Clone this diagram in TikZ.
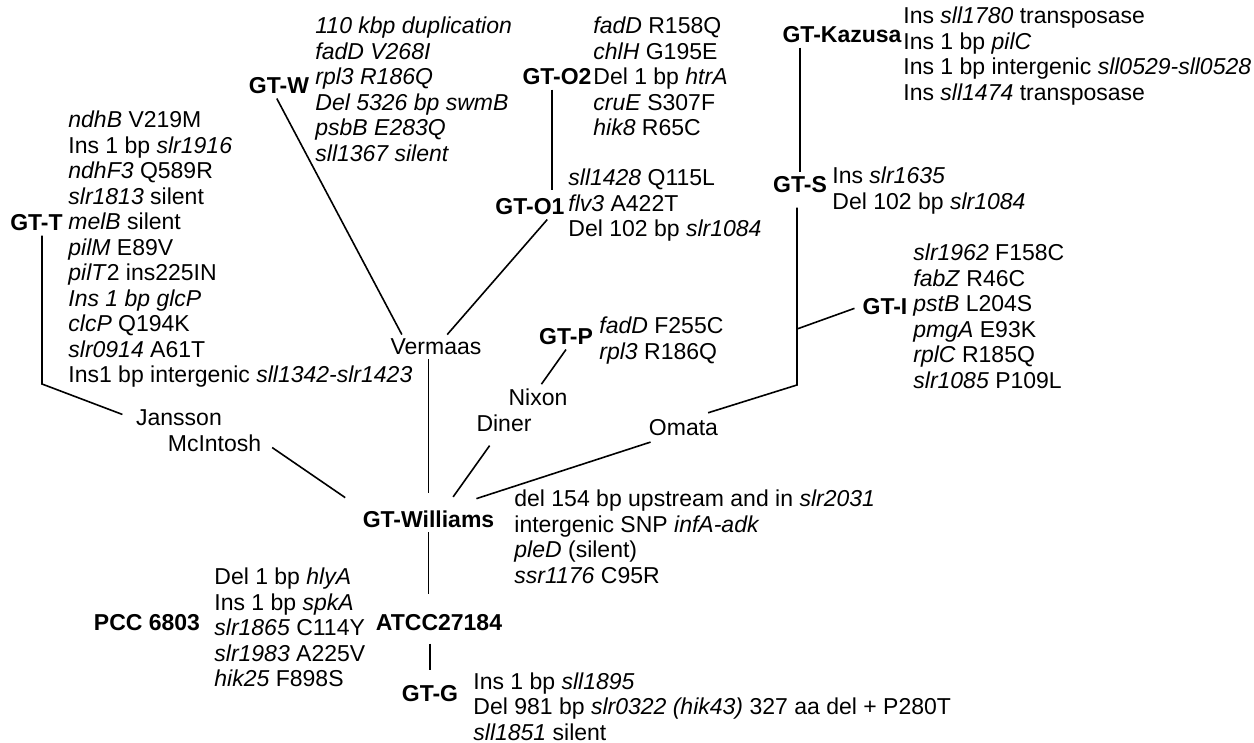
\documentclass[tikz,border=0pt]{standalone}
\usepackage{fontspec}
\setmainfont{Liberation Sans}
\usepackage{tikz}

\tikzset{
  strain/.style={inner sep=2pt, font=\bfseries},
  lab/.style={inner sep=2pt},
  muts/.style={anchor=north west, inner sep=0pt, align=left},
  link/.style={line width=0.8pt},
}

\begin{document}
\fontsize{11.5}{12.75}\selectfont
\begin{tikzpicture}[x=0.5pt, y=-0.5pt]
  \useasboundingbox (0,0) rectangle (1254,743);

  % strains
  \node[strain] (gtt) at (36.5,223) {GT-T};
  \node[strain] (gtw) at (279,86) {GT-W};
  \node[strain] (gto2) at (557,77) {GT-O2};
  \node[strain] (gto1) at (530,207) {GT-O1};
  \node[strain] (gtk) at (842,35) {GT-Kazusa};
  \node[strain] (gts) at (800,185) {GT-S};
  \node[strain] (gti) at (885,307) {GT-I};
  \node[strain] (gtp) at (566,337) {GT-P};
  \node[strain] (gtwil) at (428.5,519.5) {GT-Williams};
  \node[strain] (pcc) at (147,623) {PCC 6803};
  \node[strain] (atcc) at (439,623) {ATCC27184};
  \node[strain] (gtg) at (430,694) {GT-G};

  % labs
  \node[lab] (vermaas) at (436,347) {Vermaas};
  \node[lab] (nixon) at (538,397) {Nixon};
  \node[lab] (diner) at (504,423) {Diner};
  \node[lab] (omata) at (683.5,428) {Omata};
  \node[lab] (jansson) at (179,418) {Jansson};
  \node[lab] (mcintosh) at (214.5,443) {McIntosh};

  % mutations
  \node[muts] (tmuts) at (68,110.7) {\textit{ndhB} V219M\\ Ins 1 bp \textit{slr1916}\\ \textit{ndhF3} Q589R\\
    \textit{slr1813} silent\\ \textit{melB} silent\\ \textit{pilM} E89V\\ \textit{pilT}2 ins225IN\\
    \textit{Ins 1 bp glcP}\\ \textit{clcP} Q194K\\ \textit{slr0914} A61T\\
    Ins1 bp intergenic \textit{sll1342-slr1423}};
  \node[muts, font=\itshape] (wmuts) at (315,16.7) {110 kbp duplication\\ fadD V268I\\ rpl3 R186Q\\
    Del 5326 bp swmB\\ psbB E283Q\\ sll1367 silent};
  \node[muts] (o2muts) at (593,16.7) {\textit{fadD} R158Q\\ \textit{chlH} G195E\\ Del 1 bp \textit{htrA}\\
    \textit{cruE} S307F\\ \textit{hik8} R65C};
  \node[muts] (o1muts) at (568,168.7) {\textit{sll1428} Q115L\\ \textit{flv3} A422T\\ Del 102 bp \textit{slr1084}};
  \node[muts] (kmuts) at (903,6.7) {Ins \textit{sll1780} transposase\\ Ins 1 bp \textit{pilC}\\
    Ins 1 bp intergenic \textit{sll0529-sll0528}\\ Ins \textit{sll1474} transposase};
  \node[muts] (smuts) at (832,166.7) {Ins \textit{slr1635}\\ Del 102 bp \textit{slr1084}};
  \node[muts] (imuts) at (913,243.7) {\textit{slr1962} F158C\\ \textit{fabZ} R46C\\ \textit{pstB} L204S\\
    \textit{pmgA} E93K\\ \textit{rplC} R185Q\\ \textit{slr1085} P109L};
  \node[muts] (pmuts) at (599,316.7) {\textit{fadD} F255C\\ \textit{rpl3} R186Q};
  \node[muts] (wilmuts) at (514,489.7) {del 154 bp upstream and in \textit{slr2031}\\
    intergenic SNP \textit{infA-adk}\\ \textit{pleD} (silent)\\ \textit{ssr1176} C95R};
  \node[muts] (pccmuts) at (214,567.7) {Del 1 bp \textit{hlyA}\\ Ins 1 bp \textit{spkA}\\ \textit{slr1865} C114Y\\
    \textit{slr1983} A225V\\ \textit{hik25} F898S};
  \node[muts] (gmuts) at (473,672.2) {Ins 1 bp \textit{sll1895}\\
    Del 981 bp \textit{slr0322 (hik43)} 327 aa del + P280T\\ \textit{sll1851} silent};

  % tree
  \coordinate (tbend) at (42,384);
  \coordinate (sbend) at (797,385);
  \coordinate (ibranch) at (797,329);
  \coordinate (o2foot) at ([xshift=-2.5pt]gto2.south);

  \draw[link, shorten >=5pt] (gtt.south -| tbend) -- (tbend) -- (jansson.west);
  \draw[link, shorten <=4pt, shorten >=8pt] (mcintosh.east) -- (gtwil.north west);
  \draw[link] (gtw.-100) -- (vermaas.160);
  \draw[link] (gto1.-36) -- (vermaas.48);
  \draw[link, shorten >=2pt] (o2foot) -- (o2foot |- gto1.north);
  \draw[link, shorten >=7pt] (vermaas.south -| gtwil.north) -- (gtwil.north);
  \draw[link] (gtp.south) -- (nixon.75);
  \draw[link, shorten <=6pt, shorten >=6pt] (diner.-120) -- (gtwil.36);
  \draw[link, shorten <=2.5pt, shorten >=13pt] (omata.-156) -- (gtwil.29);
  \draw[link, shorten <=4.5pt, shorten >=5pt] (omata.38) -- (sbend) -- (sbend |- gts.south);
  \draw[link, shorten >=2pt] (ibranch) -- (gti.west);
  \draw[link] (gts.north |- gtk.south) -- (gts.north);
  \draw[link, shorten >=8pt] (gtwil.south) -- (gtwil.south |- atcc.north);
  \draw[link, shorten <=4pt, shorten >=5.5pt] (gtg.north |- atcc.south) -- (gtg.north);
\end{tikzpicture}
\end{document}
